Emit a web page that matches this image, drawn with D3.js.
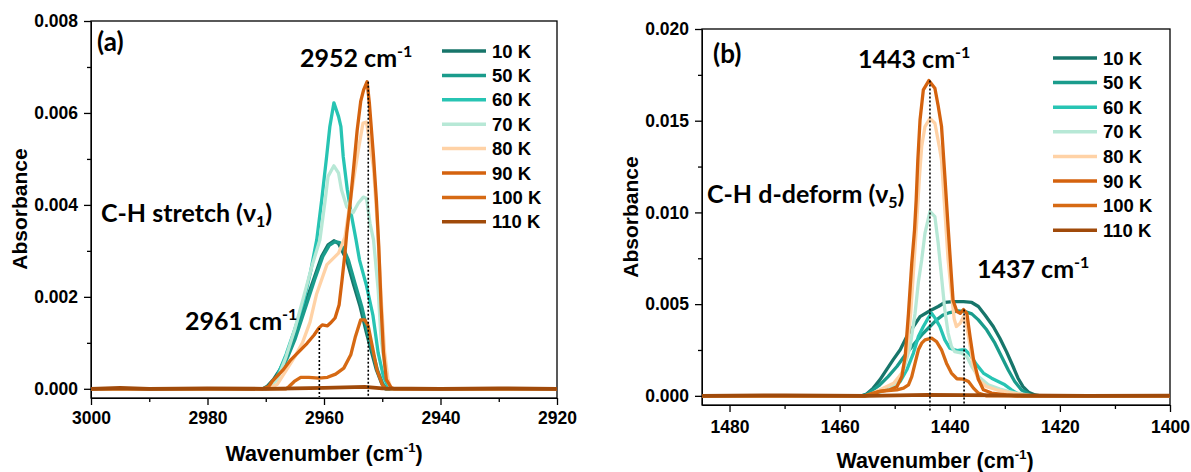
<!DOCTYPE html>
<html>
<head>
<meta charset="utf-8">
<script src="https://cdn.jsdelivr.net/npm/d3@7"></script>
<style>
body { margin: 0; background: #fff; }
svg text { font-family: "Liberation Sans", Arial, sans-serif; font-weight: bold; fill: #000; }
svg text.ann { font-family: Lato, "Open Sans", sans-serif; font-weight: bold; }
</style>
</head>
<body>
<svg id="chart" width="1191" height="472"></svg>
<script>
// ---- data (wavenumber cm-1, absorbance) ----
var tempLabels = ["10 K", "50 K", "60 K", "70 K", "80 K", "90 K", "100 K", "110 K"];

// panel (a): C-H stretch
var stretch10 = [[3000,0],[2970.5,0],[2969.8,0.00005],[2968.7,0.0002],[2967.6,0.00041],[2966.5,0.0007],[2965.3,0.00107],[2963.6,0.00172],[2961.8,0.00237],[2960.4,0.00288],[2959.3,0.00313],[2958.3,0.00322],[2957.5,0.00316],[2956.9,0.003],[2956.1,0.0028],[2955,0.0023],[2953.8,0.00179],[2952.7,0.00121],[2951.8,0.00078],[2951,0.00041],[2950.1,0.00012],[2949.5,0],[2920,0]];
var stretch50 = [[3000,0],[2970.2,0],[2969.5,0.00005],[2968.4,0.0002],[2967.3,0.0004],[2966.2,0.0007],[2965,0.00107],[2963.3,0.00172],[2961.6,0.00238],[2960.2,0.00288],[2959.1,0.00312],[2958.1,0.0032],[2957.3,0.00318],[2956.6,0.00303],[2955.8,0.0028],[2954.7,0.0023],[2953.5,0.00178],[2952.5,0.00122],[2951.6,0.00078],[2950.8,0.0004],[2949.9,0.00011],[2949.3,0],[2920,0]];
var stretch60 = [[3000,0],[2970,0],[2969.3,0.00005],[2968,0.00028],[2966.5,0.00075],[2965,0.0013],[2963.5,0.0019],[2962.3,0.00255],[2961.25,0.00324],[2960.4,0.0041],[2959.55,0.00505],[2959,0.0057],[2958.3,0.00622],[2957.5,0.00592],[2957.1,0.0057],[2956.7,0.00505],[2956,0.00433],[2955.25,0.00375],[2954.5,0.00324],[2953.9,0.0028],[2952.7,0.00224],[2951.6,0.0016],[2950.7,0.00078],[2949.8,0.00027],[2949,0.00005],[2948.5,0],[2920,0]];
var stretch70 = [[3000,0],[2970,0],[2969.4,0.00004],[2968,0.0002],[2966.5,0.0007],[2965,0.0013],[2963.5,0.002],[2962,0.0027],[2960.7,0.00324],[2959.8,0.0041],[2959.3,0.00462],[2958.3,0.00485],[2957.5,0.00469],[2957,0.00433],[2956.1,0.00396],[2955,0.00383],[2954.1,0.00404],[2953.25,0.00417],[2952.7,0.00414],[2952.1,0.0036],[2951.5,0.00324],[2950.7,0.00215],[2950.2,0.00107],[2949.2,0.0002],[2948.5,0],[2920,0]];
var stretch80 = [[3000,0],[2969.5,0],[2968,0.0001],[2966.5,0.0004],[2965,0.0007],[2963.7,0.001],[2962.4,0.00145],[2961.3,0.00205],[2959.5,0.0027],[2957.5,0.00295],[2956.4,0.0033],[2955.2,0.00433],[2954.1,0.0052],[2953.3,0.00578],[2952.7,0.0058],[2951.5,0.0048],[2950.8,0.0035],[2950.2,0.002],[2949.6,0.0008],[2949,0.0002],[2948.5,0],[2920,0]];
var stretch90 = [[3000,0],[2970.5,0],[2969.5,0.00005],[2968.9,0.00016],[2967.1,0.0004],[2965.7,0.00063],[2964.3,0.00081],[2962.9,0.00099],[2961.7,0.00117],[2960.9,0.00132],[2960.3,0.00139],[2959.4,0.00137],[2958.9,0.00143],[2958.1,0.00154],[2957.4,0.00183],[2956.9,0.00237],[2956.4,0.00295],[2956.1,0.00338],[2955.5,0.00404],[2955,0.00469],[2954.3,0.00563],[2953.7,0.00625],[2953.2,0.0065],[2952.6,0.00668],[2952.2,0.0062],[2951.5,0.00505],[2951,0.0041],[2950.6,0.0031],[2950.2,0.0018],[2949.8,0.0008],[2949.3,0.0002],[2948.5,0.00003],[2948,0],[2920,0]];
var stretch100 = [[3000,0],[2966.5,0],[2966,0.00005],[2965.1,0.00016],[2964,0.00025],[2962.6,0.00025],[2960.9,0.00023],[2959.4,0.00025],[2958,0.00032],[2956.6,0.00045],[2955.4,0.00074],[2954.6,0.00114],[2953.7,0.0015],[2953,0.0015],[2952.4,0.00136],[2951.7,0.00092],[2950.9,0.00041],[2950,0.00009],[2949.4,0],[2920,0]];
var stretch110 = [[3000,0],[2995,0.00002],[2990,0],[2980,0.00001],[2970,0],[2960,0.00002],[2953,0.00004],[2950,0.00001],[2940,0],[2930,0.00001],[2920,0]];

// panel (b): C-H d-deform
var deform10 = [[1485,0],[1456,0],[1455.1,0.0001],[1453.9,0.00042],[1452.7,0.00087],[1451.5,0.00142],[1450.3,0.00196],[1449,0.00251],[1447.8,0.00323],[1446.6,0.00378],[1445.4,0.00432],[1443.6,0.00464],[1442.1,0.00487],[1440.9,0.00509],[1439.4,0.00514],[1437.5,0.00514],[1436,0.00509],[1434.8,0.00487],[1433.6,0.00441],[1432.1,0.00378],[1430.9,0.00314],[1429.7,0.00241],[1428.5,0.0016],[1427.6,0.00096],[1426.7,0.0005],[1425.7,0.0002],[1424.5,0.00005],[1423.5,0],[1400,0]];
var deform50 = [[1485,0],[1456,0],[1455.1,0.00007],[1453.9,0.00033],[1452.7,0.0006],[1451.2,0.00105],[1449.6,0.0016],[1448.1,0.00223],[1446.6,0.00278],[1445.1,0.00332],[1443.6,0.00378],[1442.4,0.00414],[1441.2,0.00441],[1440,0.00454],[1438.5,0.00463],[1437.2,0.00459],[1436,0.00447],[1434.8,0.00414],[1433.3,0.0036],[1431.8,0.00287],[1430.6,0.00214],[1429.4,0.00142],[1428.2,0.00078],[1427,0.00033],[1425.7,0.0001],[1425,0],[1400,0]];
var deform60 = [[1485,0],[1455.5,0],[1453.3,0.00015],[1450.9,0.00042],[1449,0.00078],[1447.8,0.00142],[1446.6,0.00233],[1445.7,0.00323],[1444.8,0.00378],[1443.9,0.00425],[1443.3,0.0045],[1442.7,0.00425],[1441.8,0.00378],[1440.9,0.00305],[1440,0.0026],[1438.7,0.00247],[1437.8,0.00251],[1437.2,0.00251],[1436.3,0.00223],[1435.1,0.00169],[1433.9,0.00124],[1432.4,0.00096],[1431.2,0.00078],[1430,0.0006],[1428.8,0.00033],[1427.6,0.0001],[1427,0],[1400,0]];
var deform70 = [[1485,0],[1455,0],[1453.5,0.00012],[1451.5,0.00033],[1449.6,0.00069],[1448.4,0.00142],[1447.2,0.00269],[1446.3,0.0045],[1445.7,0.0062],[1445.1,0.00741],[1444.5,0.00887],[1443.6,0.01005],[1442.7,0.00977],[1442.1,0.00832],[1441.5,0.0065],[1440.9,0.00469],[1440.3,0.00342],[1439.7,0.0027],[1439.1,0.00241],[1437.8,0.00233],[1436.9,0.00214],[1436,0.0016],[1434.8,0.00105],[1433,0.0006],[1430.9,0.00037],[1428.5,0.00018],[1426,0.00005],[1425,0],[1400,0]];
var deform80 = [[1485,0],[1455,0],[1453.9,0.00015],[1452.1,0.00042],[1450.2,0.00069],[1448.7,0.00124],[1447.8,0.00233],[1447.1,0.0045],[1446.5,0.0072],[1446,0.0095],[1445.5,0.01196],[1445.1,0.01359],[1444.5,0.01468],[1443.6,0.01513],[1442.7,0.01486],[1441.9,0.01359],[1441.5,0.01286],[1440.9,0.01014],[1440.3,0.00741],[1439.7,0.0056],[1439.2,0.0042],[1438.8,0.00378],[1438.1,0.00396],[1437.5,0.00432],[1436.9,0.0038],[1436.3,0.00269],[1435.7,0.0016],[1434.8,0.00087],[1433.3,0.0005],[1431.5,0.00033],[1429.1,0.00018],[1426.7,0.00005],[1425,0],[1400,0]];
var deform90 = [[1485,0],[1455.5,0],[1454.5,0.00005],[1452.7,0.00024],[1450.9,0.00033],[1449.6,0.0005],[1448.7,0.00105],[1448.1,0.00214],[1447.5,0.0045],[1446.9,0.00723],[1446.4,0.00905],[1446.1,0.01068],[1445.8,0.01286],[1445.4,0.01504],[1444.8,0.01668],[1443.8,0.01719],[1442.7,0.01677],[1442.1,0.0158],[1441.5,0.0147],[1440.9,0.012],[1440.3,0.0092],[1439.7,0.0065],[1439.4,0.0052],[1438.7,0.0046],[1438.1,0.0045],[1437.5,0.0047],[1436.9,0.0045],[1436.3,0.0032],[1435.7,0.002],[1434.8,0.0009],[1433.9,0.00033],[1432.4,0.00015],[1429.7,0.00005],[1428,0],[1400,0]];
var deform100 = [[1485,0],[1455.5,0],[1453.9,0.00015],[1452.7,0.00024],[1451.2,0.00029],[1449.6,0.00033],[1448.4,0.00042],[1447.5,0.0006],[1446.9,0.00105],[1446.3,0.00178],[1445.7,0.00251],[1445.1,0.00287],[1444.5,0.00305],[1443.6,0.00312],[1443.3,0.00314],[1442.4,0.00296],[1441.5,0.00251],[1440.6,0.00178],[1439.7,0.00124],[1438.7,0.00093],[1437.5,0.00091],[1436.6,0.00078],[1435.7,0.00042],[1434.8,0.00015],[1433.3,0],[1400,0]];
var deform110 = [[1485,0],[1470,0.00003],[1455,0],[1444,0.00005],[1430,0.00002],[1415,0],[1400,0.00001]];

var stretchXTicks = [3000, 2980, 2960, 2940, 2920];
var stretchYTicks = [0, 0.002, 0.004, 0.006, 0.008];
var deformXTicks = [1480, 1460, 1440, 1420, 1400];
var deformYTicks = [0, 0.005, 0.010, 0.015, 0.020];

// marked peaks: [wavenumber, absorbance at top of dotted line]
var stretchPeaks = [[2960.8, 0.00132], [2952.4, 0.00668]];
var deformPeaks = [[1443.6, 0.01719], [1437.4, 0.0047]];

var colors = ["#17756a", "#1a9c8c", "#27c4b3", "#b7e8d6", "#ffd2a6", "#d4620e", "#d66a14", "#a04a0a"];

var svg = d3.select("#chart");

function panel(cfg) {
    var x = d3.scaleLinear().domain(cfg.xDomain).range([cfg.left, cfg.right]);
    var y = d3.scaleLinear().domain(cfg.yDomain).range([cfg.bottom, cfg.top]);
    var g = svg.append("g");

    // minor ticks
    g.append("g")
        .attr("transform", "translate(0," + cfg.bottom + ")")
        .call(d3.axisBottom(x).tickValues(cfg.xMinor).tickSize(4).tickSizeOuter(0).tickFormat(""))
        .call(function(s) { s.select(".domain").remove(); });
    g.append("g")
        .attr("transform", "translate(" + cfg.left + ",0)")
        .call(d3.axisLeft(y).tickValues(cfg.yMinor).tickSize(4).tickSizeOuter(0).tickFormat(""))
        .call(function(s) { s.select(".domain").remove(); });

    g.append("g")
        .attr("transform", "translate(0," + cfg.bottom + ")")
        .call(d3.axisBottom(x).tickValues(cfg.xTicks).tickSize(7).tickSizeOuter(0).tickPadding(cfg.xPad).tickFormat(d3.format("d")));
    g.append("g")
        .attr("transform", "translate(" + cfg.left + ",0)")
        .call(d3.axisLeft(y).tickValues(cfg.yTicks).tickSize(7).tickSizeOuter(0).tickPadding(6).tickFormat(d3.format(".3f")));
    g.selectAll(".tick line").attr("stroke-width", 1.3);
    g.selectAll(".tick text").style("font-size", "17.5px").attr("font-family", null);

    // frame
    g.append("rect")
        .attr("x", cfg.left).attr("y", cfg.top)
        .attr("width", cfg.right - cfg.left).attr("height", cfg.bottom - cfg.top)
        .attr("fill", "none").attr("stroke", "#000").attr("stroke-width", 1.3);

    var clipId = "clip" + cfg.name;
    svg.append("clipPath").attr("id", clipId).append("rect")
        .attr("x", cfg.left).attr("y", cfg.top)
        .attr("width", cfg.right - cfg.left).attr("height", cfg.bottom - cfg.top);

    var line = d3.line()
        .x(function(d) { return x(d[0]); })
        .y(function(d) { return y(d[1]); });

    g.append("g").attr("clip-path", "url(#" + clipId + ")")
        .selectAll("path")
        .data(cfg.series)
        .enter()
        .append("path")
        .attr("d", line)
        .attr("fill", "none")
        .attr("stroke", function(d, i) { return colors[i]; })
        .attr("stroke-width", function(d, i) { return i == 7 ? 3.8 : 3.3; })
        .attr("stroke-linejoin", "round");

    // dotted markers
    g.selectAll(".peak")
        .data(cfg.peaks)
        .enter()
        .append("line")
        .attr("x1", function(d) { return x(d[0]); })
        .attr("x2", function(d) { return x(d[0]); })
        .attr("y1", function(d) { return y(d[1]); })
        .attr("y2", function(d, i) { return cfg.bottom + cfg.dotExtra[i]; })
        .attr("stroke", "#000")
        .attr("stroke-width", 1.6)
        .attr("stroke-dasharray", "2,2");

    // legend
    var lg = g.append("g");
    tempLabels.forEach(function(t, i) {
        var yy = cfg.legY + i * cfg.legStep;
        lg.append("line")
            .attr("x1", cfg.legX).attr("x2", cfg.legX + 44)
            .attr("y1", yy).attr("y2", yy)
            .attr("stroke", colors[i]).attr("stroke-width", 3.5);
        lg.append("text")
            .attr("x", cfg.legX + 50).attr("y", yy + 6.5)
            .style("font-size", "18.5px")
            .text(t);
    });

    // axis titles
    g.append("text")
        .attr("transform", "translate(" + cfg.yTitle[0] + "," + cfg.yTitle[1] + ") rotate(-90)")
        .attr("text-anchor", "middle")
        .style("font-size", "21px")
        .text("Absorbance");
    var xt = g.append("text")
        .attr("x", cfg.xTitle[0]).attr("y", cfg.xTitle[1])
        .attr("text-anchor", "middle")
        .style("font-size", "21.5px");
    xt.append("tspan").text("Wavenumber (cm");
    xt.append("tspan").attr("dy", -9).style("font-size", "13px").text("-1");
    xt.append("tspan").attr("dy", 9).text(")");

    // annotations
    cfg.notes.forEach(function(n) {
        var t = g.append("text").attr("class", "ann")
            .attr("x", n.x).attr("y", n.y)
            .style("font-size", n.size + "px");
        t.append("tspan").text(n.text);
        if (n.sup) {
            t.append("tspan").attr("dy", -10).style("font-size", "16px").text(n.sup);
        }
        if (n.sub) {
            t.append("tspan").attr("dy", 5).style("font-size", "16px").text(n.sub);
            t.append("tspan").attr("dy", -5).text(")");
        }
    });
}

panel({
    name: "a",
    left: 91, right: 557, top: 21, bottom: 398,
    xDomain: [3000, 2920], yDomain: [-0.0002, 0.008],
    xTicks: stretchXTicks, yTicks: stretchYTicks,
    xMinor: [2990, 2970, 2950, 2930],
    yMinor: [0.001, 0.003, 0.005, 0.007],
    xPad: 7,
    series: [stretch10, stretch50, stretch60, stretch70, stretch80, stretch90, stretch100, stretch110],
    peaks: stretchPeaks, dotExtra: [-1, -1],
    legX: 442, legY: 51, legStep: 24.4,
    yTitle: [27, 209], xTitle: [324, 461],
    notes: [
        { x: 97, y: 51, size: 26, text: "(a)" },
        { x: 300, y: 67, size: 25, text: "2952 cm", sup: "-1" },
        { x: 101, y: 222, size: 25, text: "C-H stretch (ν", sub: "1" },
        { x: 185, y: 330, size: 25, text: "2961 cm", sup: "-1" }
    ]
});

panel({
    name: "b",
    left: 702, right: 1170, top: 29, bottom: 405,
    xDomain: [1485, 1400], yDomain: [-0.0005, 0.020],
    xTicks: deformXTicks, yTicks: deformYTicks,
    xMinor: [1470, 1450, 1430, 1410],
    yMinor: [0.0025, 0.0075, 0.0125, 0.0175],
    xPad: 9,
    series: [deform10, deform50, deform60, deform70, deform80, deform90, deform100, deform110],
    peaks: deformPeaks, dotExtra: [7, -1],
    legX: 1053, legY: 58, legStep: 24.6,
    yTitle: [638, 217], xTitle: [935, 468],
    notes: [
        { x: 713, y: 63, size: 26, text: "(b)" },
        { x: 858, y: 68, size: 25, text: "1443 cm", sup: "-1" },
        { x: 707, y: 203, size: 25, text: "C-H d-deform (ν", sub: "5" },
        { x: 977, y: 278, size: 25, text: "1437 cm", sup: "-1" }
    ]
});
</script>
</body>
</html>
